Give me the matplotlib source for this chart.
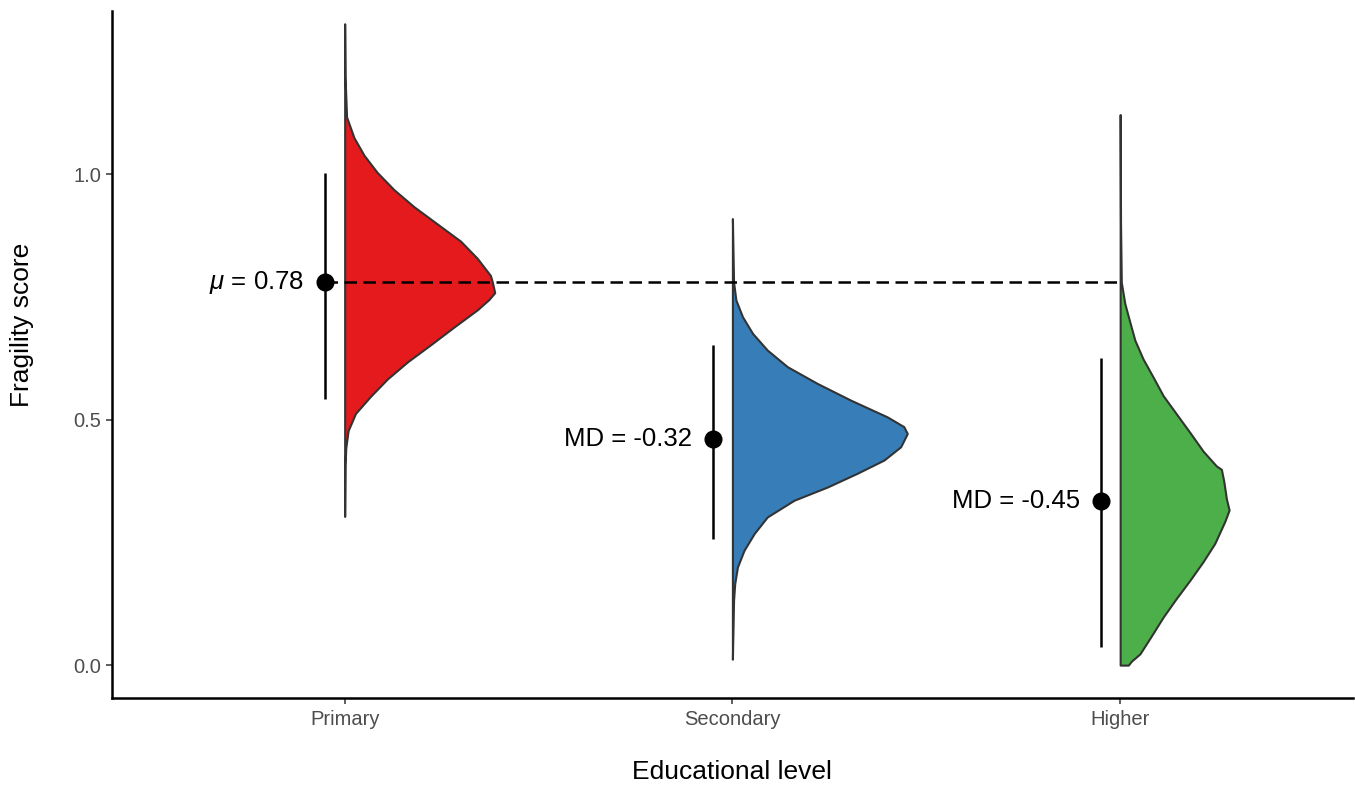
import matplotlib
matplotlib.use("Agg")
import matplotlib.pyplot as plt
import numpy as np

plt.rcParams['font.family'] = ['Liberation Sans', 'DejaVu Sans']
plt.rcParams['mathtext.fontset'] = 'custom'
plt.rcParams['mathtext.it'] = 'Liberation Sans:italic'
plt.rcParams['mathtext.rm'] = 'Liberation Sans'

# ---- data ----
categories = ["Primary", "Secondary", "Higher"]
colors = ["#E41A1C", "#377EB8", "#4DAF4A"]

# half-violin profiles: y value and half-width (in category units)
y_primary = [0.303, 0.408, 0.443, 0.478, 0.513, 0.548, 0.583, 0.618, 0.653, 0.689,
             0.724, 0.745, 0.759, 0.780, 0.794, 0.829, 0.864, 0.899, 0.934, 0.969,
             1.004, 1.039, 1.075, 1.117, 1.200, 1.307]
w_primary = [0.0, 0.001, 0.003, 0.009, 0.028, 0.067, 0.110, 0.162, 0.222, 0.282,
             0.342, 0.372, 0.387, 0.381, 0.376, 0.342, 0.299, 0.239, 0.179, 0.127,
             0.084, 0.050, 0.024, 0.005, 0.001, 0.0]

y_secondary = [0.012, 0.132, 0.166, 0.200, 0.234, 0.268, 0.302, 0.336, 0.363, 0.391,
               0.418, 0.445, 0.472, 0.486, 0.506, 0.540, 0.574, 0.608, 0.642, 0.676,
               0.710, 0.744, 0.781, 0.910]
w_secondary = [0.0, 0.003, 0.006, 0.013, 0.030, 0.056, 0.090, 0.159, 0.245, 0.322,
               0.391, 0.434, 0.451, 0.442, 0.399, 0.305, 0.219, 0.142, 0.090, 0.052,
               0.026, 0.009, 0.003, 0.0]

y_higher = [0.0, 0.0, 0.008, 0.023, 0.060, 0.098, 0.136, 0.173, 0.211, 0.248,
            0.293, 0.316, 0.339, 0.376, 0.399, 0.406, 0.436, 0.474, 0.512, 0.549,
            0.587, 0.624, 0.662, 0.699, 0.737, 0.780, 0.900, 1.122]
w_higher = [0.0, 0.021, 0.029, 0.051, 0.081, 0.111, 0.145, 0.180, 0.214, 0.244,
            0.270, 0.281, 0.274, 0.267, 0.261, 0.248, 0.214, 0.180, 0.145, 0.111,
            0.085, 0.059, 0.038, 0.025, 0.012, 0.003, 0.001, 0.0]

# point estimates and intervals
means = [0.78, 0.46, 0.335]
ci_low = [0.542, 0.258, 0.036]
ci_high = [1.003, 0.652, 0.626]
point_labels = [r"$\mu$ = 0.78", "MD = -0.32", "MD = -0.45"]
reference_mean = 0.78

y_ticks = [0.0, 0.5, 1.0]
y_tick_labels = ["0.0", "0.5", "1.0"]

# ---- figure ----
W, H = 1355, 786
fig = plt.figure(figsize=(W / 100, H / 100), dpi=100)
ax = fig.add_axes([112 / W, 1 - 697.5 / H, (1352.8 - 112) / W, (697.5 - 11) / H])
ax.set_xlim(0.4, 3.6)
ax.set_ylim(-0.066, 1.333)

profiles = [(y_primary, w_primary), (y_secondary, w_secondary), (y_higher, w_higher)]
positions = np.arange(1, len(categories) + 1)

for pos, (yy, ww), col in zip(positions, profiles, colors):
    yy = np.asarray(yy)
    ww = np.asarray(ww)
    ax.fill_betweenx(yy, pos, pos + ww, facecolor=col, edgecolor="#333333",
                     linewidth=1.5, zorder=2)

# dashed reference line
ax.plot([positions[0] - 0.05, positions[-1]], [reference_mean, reference_mean],
        color="black", lw=1.8, linestyle=(0, (5, 2.6)), zorder=3)

# error bars and points
for pos, m, lo, hi, lab in zip(positions, means, ci_low, ci_high, point_labels):
    xp = pos - 0.05
    ax.plot([xp, xp], [lo, hi], color="black", lw=1.8, zorder=4, solid_capstyle="butt")
    ax.plot([xp], [m], marker="o", markersize=12, color="black", zorder=5)
    ax.annotate(lab, (xp, m), xytext=(-15, 0), textcoords="offset points",
                ha="right", va="center", fontsize=18.5, color="black")

# axes styling
for s in ["top", "right"]:
    ax.spines[s].set_visible(False)
for s in ["left", "bottom"]:
    ax.spines[s].set_linewidth(1.8)
    ax.spines[s].set_color("black")

ax.set_xticks(positions)
ax.set_xticklabels(categories)
ax.set_yticks(y_ticks)
ax.set_yticklabels(y_tick_labels)
ax.tick_params(axis="both", length=4, width=1.1, color="#333333",
               labelcolor="#4D4D4D", labelsize=14.5)
ax.tick_params(axis="x", pad=5)
ax.tick_params(axis="y", pad=4)

fig.text(732 / W, 1 - 772 / H, "Educational level", ha="center", va="center",
         fontsize=19, color="black")
fig.text(22 / W, 1 - 325 / H, "Fragility score", ha="center", va="center",
         rotation=90, fontsize=19, color="black")

fig.savefig("out.png", dpi=100, facecolor="white")
